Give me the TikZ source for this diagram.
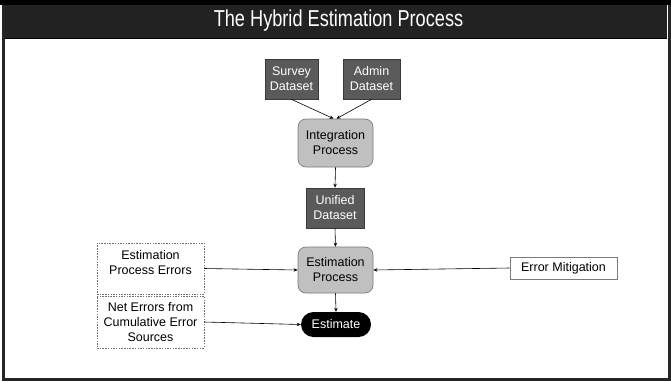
\documentclass[tikz,border=0pt]{standalone}
\usepackage{fontspec}
\setmainfont{Liberation Sans}
\usepackage{color}
\usetikzlibrary{arrows.meta}
\definecolor{bardark}{HTML}{222222}
\definecolor{datafill}{HTML}{5A5A5A}
\definecolor{dataline}{HTML}{3A3A3A}
\definecolor{procfill}{HTML}{C0C0C0}
\definecolor{procline}{HTML}{7A7A7A}
\definecolor{errline}{HTML}{707070}

\begin{document}
\begin{tikzpicture}[x=1pt,y=-1pt,
	font=\fontsize{12.5}{15}\selectfont,
	every node/.style={align=center,inner sep=0pt},
	databox/.style={draw=dataline,fill=datafill,text=white,minimum height=40pt,line width=0.7pt},
	procbox/.style={draw=procline,fill=procfill,rounded corners=8pt,minimum width=75pt,line width=0.7pt},
	errbox/.style={draw=errline,dash pattern=on 1.5pt off 1.2pt,minimum width=107pt,line width=0.6pt},
	link/.style={-{Stealth[length=4pt,width=3.5pt]},line width=0.6pt}]
	\useasboundingbox (0,0) rectangle (671,381);
	% frame and title bar
	\fill[white] (0,0) rectangle (671,381);
	\draw[line width=3pt,black!85] (3.5,2) rectangle (669,379);
	\fill[black] (0,0) rectangle (671,5);
	\fill[bardark] (5,5) rectangle (667,38);
	\draw[black,line width=1pt] (5,38) -- (667,38);
	\node[text=white,xscale=0.79,font=\fontsize{23}{26}\selectfont] (title) at (338.5,21) {The Hybrid Estimation Process};
	% nodes
	\node[databox,minimum width=53pt] (survey) at (291.5,79) {Survey\\Dataset};
	\node[databox,minimum width=57pt] (admin) at (371.5,79) {Admin\\Dataset};
	\node[procbox,minimum height=48pt] (integ) at (335.5,143) {Integration\\Process};
	\node[databox,minimum width=58pt] (unified) at (335,208) {Unified\\Dataset};
	\node[procbox,minimum height=46pt] (estproc) at (335.5,270) {Estimation\\Process};
	\node[fill=black,text=white,rounded corners=12.5pt,minimum width=70pt,minimum height=25pt] (estimate) at (336,324.5) {Estimate};
	\node[errbox,text height=31.5pt,text depth=19.5pt] (procerr) at (150.5,268.5) {Estimation\\Process Errors};
	\node[errbox,minimum height=52pt] (neterr) at (150.5,322) {Net Errors from\\Cumulative Error\\Sources};
	\node[draw=procline,line width=0.6pt,minimum width=107pt,minimum height=22pt] (mitig) at (563.5,268) {Error Mitigation};
	% connectors
	\draw [link] (survey.south) -- ([xshift=-2pt]integ.north);
	\draw [link] (admin.south) -- ([xshift=1pt]integ.north);
	\draw [link] (integ.south) -- (unified.north);
	\draw [link] (unified.south) -- (estproc.north);
	\draw [link] (estproc.south) -- (estimate.north);
	\draw [link] (procerr.east) -- (estproc.west);
	\draw [link] (neterr.east) -- (estimate.west);
	\draw [link] (mitig.west) -- (estproc.east);
\end{tikzpicture}
\end{document}
